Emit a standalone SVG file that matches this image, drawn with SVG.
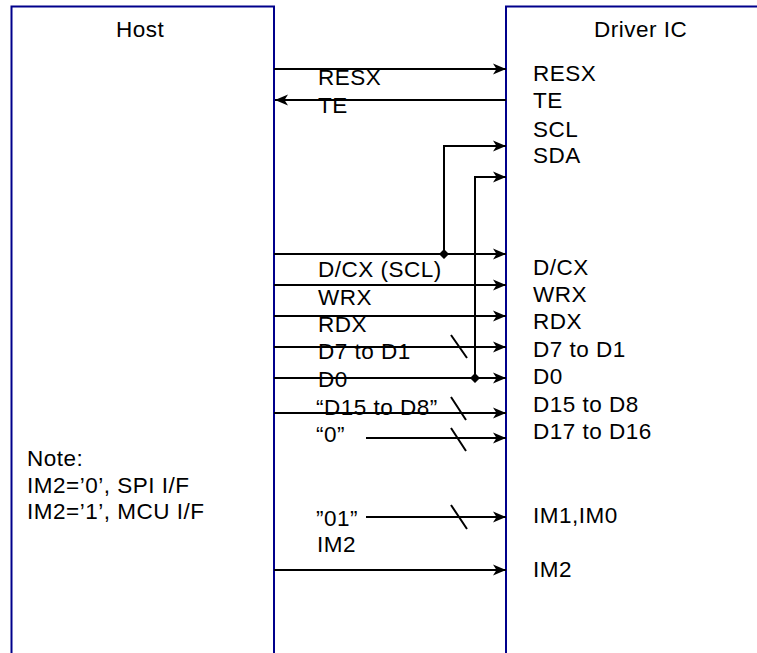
<svg xmlns="http://www.w3.org/2000/svg" width="757" height="653" viewBox="0 0 757 653">
<style>
.box{fill:none;stroke:#00008b;stroke-width:2}
.ln{fill:none;stroke:#000;stroke-width:2}
.ar{fill:none;stroke:#000;stroke-width:2;marker-end:url(#ah)}
.t{font-family:"Liberation Sans",Arial,sans-serif;font-size:22.5px;letter-spacing:0.5px;fill:#000}
</style>
<defs>
<marker id="ah" viewBox="0 0 14 12" refX="13" refY="6" markerWidth="14" markerHeight="12" markerUnits="userSpaceOnUse" orient="auto">
<path d="M0,0.5 L13,6 L0,11.5 L3.5,6 Z" fill="#000"/>
</marker>
</defs>
<rect width="757" height="653" fill="#fff"/>
<g id="host">
<path class="box" d="M11.5,660 V6.5 H274 V660"/>
<text class="t" x="116" y="37">Host</text>
<text class="t" x="27" y="466">Note:</text>
<text class="t" x="27" y="493">IM2=’0’, SPI I/F</text>
<text class="t" x="27" y="519">IM2=’1’, MCU I/F</text>
</g>
<g id="driver">
<path class="box" d="M506,660 V6.5 H760"/>
<text class="t" x="594" y="37">Driver IC</text>
<text class="t" x="533" y="81">RESX</text>
<text class="t" x="533" y="108">TE</text>
<text class="t" x="533" y="137">SCL</text>
<text class="t" x="533" y="163">SDA</text>
<text class="t" x="533" y="275">D/CX</text>
<text class="t" x="533" y="302">WRX</text>
<text class="t" x="533" y="329">RDX</text>
<text class="t" x="533" y="357">D7 to D1</text>
<text class="t" x="533" y="384">D0</text>
<text class="t" x="533" y="412">D15 to D8</text>
<text class="t" x="533" y="439">D17 to D16</text>
<text class="t" x="533" y="523">IM1,IM0</text>
<text class="t" x="533" y="577">IM2</text>
</g>
<g id="connectors">
<line class="ar" x1="274" y1="69" x2="506" y2="69"/>
<line class="ar" x1="506" y1="100" x2="275" y2="100"/>
<polyline class="ar" points="444,254 444,146 506,146"/>
<polyline class="ar" points="475,378 475,177 506,177"/>
<line class="ar" x1="274" y1="254" x2="506" y2="254"/>
<line class="ar" x1="274" y1="285" x2="506" y2="285"/>
<line class="ar" x1="274" y1="316" x2="506" y2="316"/>
<line class="ar" x1="274" y1="347" x2="506" y2="347"/>
<line class="ar" x1="274" y1="378" x2="506" y2="378"/>
<line class="ar" x1="274" y1="413" x2="506" y2="413"/>
<line class="ar" x1="366" y1="438" x2="506" y2="438"/>
<line class="ar" x1="366" y1="517" x2="506" y2="517"/>
<line class="ar" x1="274" y1="570" x2="506" y2="570"/>
<path d="M444,249 L449,254 L444,259 L439,254 Z M475,373 L480,378 L475,383 L470,378 Z" fill="#000"/>
<path class="ln" stroke-width="1.5" d="M451,335 L467,358 M451,397 L466,420 M451,428 L466,451 M451,505 L467,529"/>
</g>
<g id="labels">
<text class="t" x="318" y="85">RESX</text>
<text class="t" x="318" y="113">TE</text>
<text class="t" x="318" y="277">D/CX (SCL)</text>
<text class="t" x="318" y="305">WRX</text>
<text class="t" x="318" y="332">RDX</text>
<text class="t" x="318" y="359">D7 to D1</text>
<text class="t" x="318" y="387">D0</text>
<text class="t" x="316" y="415">“D15 to D8”</text>
<text class="t" x="316" y="442">“0”</text>
<text class="t" x="316" y="526">”01”</text>
<text class="t" x="317" y="552">IM2</text>
</g>
</svg>
